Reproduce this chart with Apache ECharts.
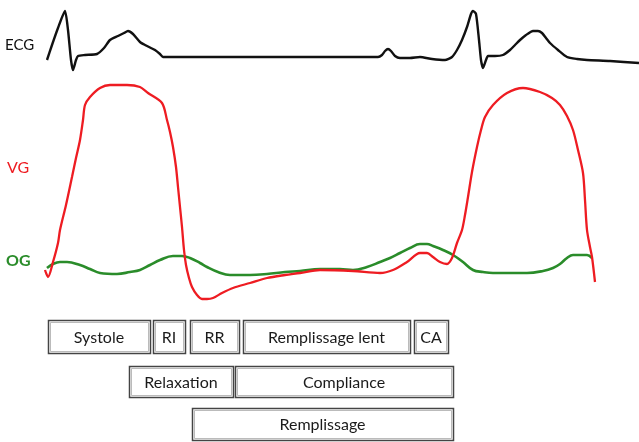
<!DOCTYPE html>
<html><head><meta charset="utf-8">
<script src="https://cdn.jsdelivr.net/npm/echarts@6/dist/echarts.min.js"></script>
<style>html,body{margin:0;padding:0;background:#fff}#c{width:639px;height:442px}</style>
</head><body><div id="c"></div>
<script>
// time (x) and level (y, top-down) values
const ecg = [[47,60],[52,45],[58,28],[65,11],[68,30],[71,60],[73,70],[76,60],[78,56],[85,55],[97,54],[104,48],[110,40],[118,36],[124,33],[128,31],[133,34],[140,42],[145,45],[151,48],[155,50],[160,54],[163,57],[200,57],[300,57],[378,57],[382,55],[385,51],[388,49],[391,51],[395,56],[400,58],[410,58],[420,57],[432,59],[445,60],[452,57],[457,50],[462,40],[467,27],[471,14],[473,11],[476,14],[479,40],[481,60],[483,68],[486,60],[488,56],[495,56],[503,55],[510,50],[515,45],[520,40],[526,35],[533,31],[538,31],[542,33],[546,38],[550,43],[558,50],[567,57],[577,59],[587,60],[610,61],[639,63]];
const vg = [[45,270],[48,277],[53,262],[58,243],[60,230],[66,205],[72,177],[76,158],[80,140],[83,120],[85,105],[90,97],[100,88],[110,85],[127,85],[140,87],[148,93],[162,103],[167,120],[170,132],[173,147],[176,167],[178,187],[180,207],[182,227],[184,250],[186,265],[189,278],[192,287],[197,295],[202,299],[207,299],[213,298],[222,293],[233,288],[250,283],[267,278],[285,275],[300,273],[320,270],[353,271],[380,273],[393,270],[407,262],[420,253],[427,253],[433,257],[440,262],[447,264],[452,258],[457,243],[462,230],[465,215],[468,197],[472,172],[477,147],[481,130],[485,117],[493,105],[507,93],[523,88],[540,92],[552,98],[560,105],[567,116],[573,130],[578,150],[583,173],[585,200],[587,230],[590,247],[592,257],[595,282]];
const og = [[47,268],[53,264],[60,262],[67,262],[80,265],[90,269],[100,273],[117,274],[130,272],[140,270],[150,265],[160,260],[173,256],[182,256],[190,258],[200,263],[207,267],[218,272],[230,275],[250,275],[267,274],[285,272],[300,271],[320,269],[340,269],[353,270],[367,267],[380,262],[390,258],[400,253],[410,248],[420,244],[427,244],[433,246],[443,250],[453,255],[463,262],[473,270],[483,272],[493,273],[510,273],[527,273],[543,271],[553,268],[560,264],[567,258],[573,255],[580,255],[587,255],[592,258]];
// phase boxes: [start, end, row, label]
const phases = [
  [48,150,0,'Systole'],[153,185,0,'RI'],[190,239,0,'RR'],[243,410,0,'Remplissage lent'],[414,448,0,'CA'],
  [129,233,1,'Relaxation'],[235,453,1,'Compliance'],
  [192,453,2,'Remplissage']
];
const rowBands = [[320,353],[366,397],[408,440]];
const FONT = 'Lato, "Open Sans", sans-serif';

const chart = echarts.init(document.getElementById('c'), null, {renderer:'canvas'});
chart.setOption({
  animation:false,
  backgroundColor:'#fff',
  grid:{left:0,right:0,top:0,bottom:0},
  xAxis:{type:'value',min:0,max:639,show:false},
  yAxis:{type:'value',min:0,max:442,inverse:true,show:false},
  series:[
    {type:'line',data:ecg,showSymbol:false,smooth:0.2,lineStyle:{color:'#111',width:2.4},z:3},
    {type:'line',data:og,showSymbol:false,smooth:0.4,lineStyle:{color:'#2a8c2a',width:2.6},z:3},
    {type:'line',data:vg,showSymbol:false,smooth:0.3,lineStyle:{color:'#ee1c22',width:2.3},z:4},
    {type:'custom',data:phases,z:5,
      renderItem:function(params,api){
        const x0=api.value(0), x1=api.value(1), r=api.value(2);
        const band=rowBands[r];
        const p0=api.coord([x0,band[0]]), p1=api.coord([x1,band[1]]);
        const w=p1[0]-p0[0], h=p1[1]-p0[1];
        return {type:'group',children:[
          {type:'rect',shape:{x:p0[0]+0.5,y:p0[1]+0.5,width:w,height:h},style:{fill:'#fff',stroke:'#444',lineWidth:1.5}},
          {type:'rect',shape:{x:p0[0]+2.5,y:p0[1]+2.5,width:w-4,height:h-4},style:{fill:'none',stroke:'#aaa',lineWidth:0.8}},
          {type:'text',style:{x:p0[0]+w/2,y:p0[1]+h/2+1,text:phases[params.dataIndex][3],align:'center',verticalAlign:'middle',font:'16px '+FONT,fill:'#1a1a1a'}}
        ]};
      }
    }
  ],
  graphic:[
    {type:'text',left:5,top:38,style:{text:'ECG',font:'15px '+FONT,fill:'#111'}},
    {type:'text',left:7,top:160,style:{text:'VG',font:'16px '+FONT,fill:'#ee1c22'}},
    {type:'text',left:6,top:253,style:{text:'OG',font:'bold 16px '+FONT,fill:'#2a8c2a'}}
  ]
});
</script></body></html>
